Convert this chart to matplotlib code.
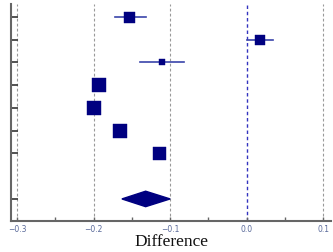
import matplotlib
matplotlib.use("Agg")
import matplotlib.pyplot as plt
from matplotlib.patches import Polygon

# data
rows = [0, 1, 2, 3, 4, 5, 6]
est = [-0.154, 0.017, -0.111, -0.193, -0.200, -0.166, -0.115]
lo = [-0.172, 0.000, -0.140, -0.200, -0.207, -0.172, -0.120]
hi = [-0.132, 0.034, -0.082, -0.186, -0.193, -0.160, -0.110]
weights = [11, 10, 6, 14, 14, 14, 13]
pooled_row = 8
pooled_est = -0.132
pooled_lo = -0.163
pooled_hi = -0.100
xticks = [-0.3, -0.2, -0.1, 0.0, 0.1]
xticklabels = ["−0.3", "−0.2", "−0.1", "0.0", "0.1"]
ytick_rows = [0, 1, 2, 3, 4, 5, 6, 8]

fig = plt.figure(figsize=(3.33, 2.53), dpi=100)
ax = fig.add_axes([11/333, 31/253, 320/333, 217/253])

ax.set_xlim(-0.3078, 0.110)
ax.set_ylim(8.97, -0.57)

for xt in xticks:
    if xt == 0.0:
        ax.axvline(xt, color="#3434c0", lw=1.0, ls=(0, (2.5, 2)), zorder=1)
    else:
        ax.axvline(xt, color="#999999", lw=0.8, ls=(0, (2.5, 2)), zorder=1)

for r, e, l, h, w in zip(rows, est, lo, hi, weights):
    ax.plot([l, h], [r, r], color="#3a44aa", lw=1.2, zorder=2)
    ax.plot([e], [r], marker="s", ms=w * 0.72, color="#000080",
            mec="#000080", mew=0.3, zorder=3)

dh = 0.34
ax.add_patch(Polygon([[pooled_lo, pooled_row], [pooled_est, pooled_row - dh],
                      [pooled_hi, pooled_row], [pooled_est, pooled_row + dh]],
                     closed=True, color="#000080", zorder=3))

for s in ["top", "right"]:
    ax.spines[s].set_visible(False)
for s in ["left", "bottom"]:
    ax.spines[s].set_color("#666666")
    ax.spines[s].set_linewidth(1.5)

ax.set_yticks(ytick_rows)
ax.set_yticklabels([])
ax.tick_params(axis="y", direction="in", length=5, width=1.3, color="#444444")

ax.set_xticks(xticks)
ax.set_xticklabels(xticklabels)
ax.set_xticks([-0.25, -0.15, -0.05, 0.05], minor=True)
ax.tick_params(axis="x", which="major", direction="in", length=3, width=1.0,
               color="#666666", labelsize=5.5, labelcolor="#5a6a9a", pad=2)
ax.tick_params(axis="x", which="minor", direction="in", length=3, width=1.0,
               color="#666666")

ax.set_xlabel("Difference", family="Liberation Serif", fontsize=12.5,
              color="#111111", labelpad=0)

fig.savefig("out.png", dpi=100)
